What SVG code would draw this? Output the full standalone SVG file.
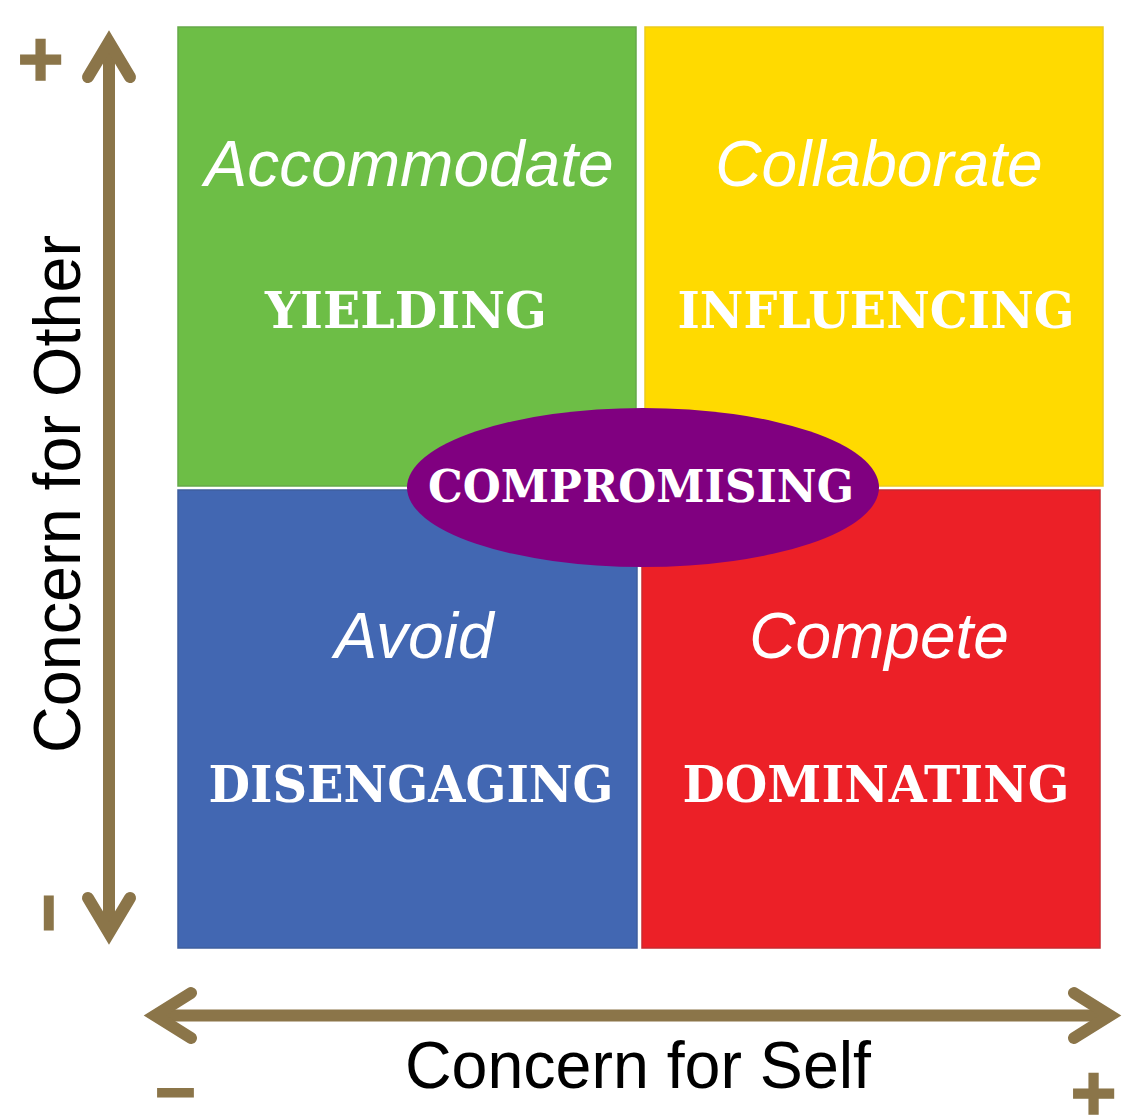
<svg xmlns="http://www.w3.org/2000/svg" width="1135" height="1115" viewBox="0 0 1135 1115">
  <style>
    .quad { stroke-width: 1.5; }
    .style-name { font-family: "Liberation Sans", Arial, sans-serif; font-style: italic; font-size: 64px; fill: #ffffff; text-anchor: middle; }
    .mode-name { font-family: "DejaVu Serif", "Liberation Serif", serif; font-weight: bold; font-size: 50px; fill: #ffffff; text-anchor: middle; }
    .axis-line { fill: none; stroke: #8b7549; stroke-width: 12; stroke-linecap: butt; }
    .axis-head { fill: none; stroke: #8b7549; stroke-width: 12; stroke-linecap: round; stroke-linejoin: miter; stroke-miterlimit: 6; }
    .axis-title { font-family: "Liberation Sans", Arial, sans-serif; font-size: 66px; fill: #000000; text-anchor: middle; }
    .sign { font-family: "Liberation Sans", Arial, sans-serif; font-weight: bold; fill: #8b7549; stroke: #8b7549; text-anchor: middle; }
  </style>

  <rect width="1135" height="1115" fill="#ffffff"/>

  <!-- Quadrants -->
  <g id="node-accommodate">
    <rect class="quad" x="178" y="27" width="458" height="459" fill="#6dbe46" stroke="#66a94a"/>
    <text class="style-name" x="409" y="186">Accommodate</text>
    <text class="mode-name" x="406" y="328" textLength="282" lengthAdjust="spacingAndGlyphs">YIELDING</text>
  </g>

  <g id="node-collaborate">
    <rect class="quad" x="645" y="27" width="458" height="459" fill="#ffda00" stroke="#eccb1e"/>
    <text class="style-name" x="879" y="186">Collaborate</text>
    <text class="mode-name" x="876" y="328" textLength="397" lengthAdjust="spacingAndGlyphs">INFLUENCING</text>
  </g>

  <g id="node-avoid">
    <rect class="quad" x="178" y="490" width="459" height="458" fill="#4267b2" stroke="#3f5f9e"/>
    <text class="style-name" x="414" y="658">Avoid</text>
    <text class="mode-name" x="411" y="802" textLength="405" lengthAdjust="spacingAndGlyphs">DISENGAGING</text>
  </g>

  <g id="node-compete">
    <rect class="quad" x="642" y="490" width="458" height="458" fill="#ec2027" stroke="#c92a30"/>
    <text class="style-name" x="879" y="658">Compete</text>
    <text class="mode-name" x="876" y="802" textLength="387" lengthAdjust="spacingAndGlyphs">DOMINATING</text>
  </g>

  <g id="node-compromising">
    <ellipse cx="643" cy="487.5" rx="236" ry="79.5" fill="#800080"/>
    <text class="mode-name" x="641" y="502" style="font-size:45px" textLength="426" lengthAdjust="spacingAndGlyphs">COMPROMISING</text>
  </g>

  <!-- Axes -->
  <g id="connectors">
    <g id="axis-other">
      <line class="axis-line" x1="109" y1="42" x2="109" y2="933"/>
      <polyline class="axis-head" points="88,77 109,42 130,77"/>
      <polyline class="axis-head" points="88,898 109,933 130,898"/>
    </g>
    <g id="axis-self">
      <line class="axis-line" x1="155" y1="1015.5" x2="1110" y2="1015.5"/>
      <polyline class="axis-head" points="191,993 155,1015.5 191,1038"/>
      <polyline class="axis-head" points="1074,993 1110,1015.5 1074,1038"/>
    </g>
  </g>

  <!-- Axis titles and signs -->
  <g id="label-other">
    <text class="axis-title" transform="translate(80,494) rotate(-90)" x="0" y="0" textLength="518" lengthAdjust="spacingAndGlyphs">Concern for Other</text>
    <text class="sign" x="40.5" y="86" style="font-size:79px; stroke-width:1.5">+</text>
    <text class="sign" transform="translate(50,913) rotate(-90)" x="0" y="16" style="font-size:64px; stroke-width:3.5">–</text>
  </g>

  <g id="label-self">
    <text class="axis-title" x="638" y="1088" textLength="466" lengthAdjust="spacingAndGlyphs">Concern for Self</text>
    <text class="sign" x="175.5" y="1105" style="font-size:47px; stroke-width:5" textLength="34" lengthAdjust="spacingAndGlyphs">–</text>
    <text class="sign" x="1093.5" y="1120" style="font-size:79px; stroke-width:1.5">+</text>
  </g>
</svg>
